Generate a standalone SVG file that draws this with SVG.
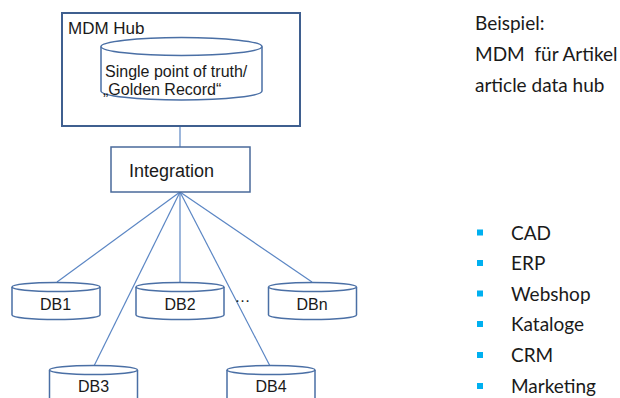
<svg xmlns="http://www.w3.org/2000/svg" width="620" height="398" viewBox="0 0 620 398">
  <style>
    .frame { fill: #ffffff; stroke: #3f5f8f; stroke-width: 2; }
    .box { fill: #ffffff; stroke: #4a6a9a; stroke-width: 1.5; }
    .cyl { fill: #ffffff; stroke: #4a6fa5; stroke-width: 1.5; }
    .link { stroke: #5b86c4; stroke-width: 1.2; fill: none; }
    .lbl { font-family: "Liberation Sans", Arial, sans-serif; fill: #1a1a1a; }
    .side { font-family: Lato, "Open Sans", sans-serif; fill: #1a1a1a; font-size: 19px; }
    .bullet { fill: #00b0f0; }
  </style>
  <defs>
    <!-- small database drum: top ellipse at y=0, body 28 high -->
    <g id="drum">
      <path class="cyl" d="M -44 0 L -44 28 A 44 4.5 0 0 0 44 28 L 44 0"/>
      <ellipse class="cyl" cx="0" cy="0" rx="44" ry="4.5"/>
    </g>
  </defs>

  <rect width="620" height="398" fill="#ffffff"/>

  <!-- connectors -->
  <g id="connectors">
    <line class="link" x1="180" y1="100" x2="180" y2="147"/>
    <line class="link" x1="180" y1="192" x2="57" y2="282"/>
    <line class="link" x1="180" y1="192" x2="94" y2="366"/>
    <line class="link" x1="180" y1="192" x2="180" y2="282"/>
    <line class="link" x1="180" y1="192" x2="270" y2="366"/>
    <line class="link" x1="180" y1="192" x2="312" y2="282"/>
  </g>

  <!-- hub frame with golden record store -->
  <g id="mdm-hub">
    <rect class="frame" x="62" y="13" width="238" height="113"/>
    <text class="lbl" x="68" y="33.5" font-size="17">MDM Hub</text>
  </g>
  <g id="golden-record">
    <path class="cyl" d="M 101 46.5 L 101 91 A 80.5 9 0 0 0 262 91 L 262 46.5"/>
    <ellipse class="cyl" cx="181.5" cy="46.5" rx="80.5" ry="9"/>
    <text class="lbl" x="105" y="77" font-size="16">Single point of truth/</text>
    <text class="lbl" x="103" y="95" font-size="16">„Golden Record“</text>
  </g>

  <g id="integration">
    <rect class="box" x="111" y="147" width="139" height="45"/>
    <text class="lbl" x="129" y="177" font-size="18">Integration</text>
  </g>

  <g id="db1">
    <use href="#drum" x="56" y="287"/>
    <text class="lbl" x="55.5" y="309.5" font-size="16" text-anchor="middle">DB1</text>
  </g>
  <g id="db2">
    <use href="#drum" x="180" y="287"/>
    <text class="lbl" x="180" y="309.5" font-size="16" text-anchor="middle">DB2</text>
  </g>
  <g id="dbn">
    <use href="#drum" x="312.5" y="287"/>
    <text class="lbl" x="312" y="309.5" font-size="16" text-anchor="middle">DBn</text>
  </g>
  <g id="db3">
    <use href="#drum" x="93.5" y="370"/>
    <text class="lbl" x="93.5" y="392" font-size="16" text-anchor="middle">DB3</text>
  </g>
  <g id="db4">
    <use href="#drum" x="271" y="370"/>
    <text class="lbl" x="271" y="392" font-size="16" text-anchor="middle">DB4</text>
  </g>
  <text class="lbl" x="242.5" y="302" font-size="16" text-anchor="middle">…</text>

  <!-- example note -->
  <g id="note">
    <text class="side" x="475" y="30">Beispiel:</text>
    <text class="side" x="475" y="61" xml:space="preserve">MDM  für Artikel</text>
    <text class="side" x="475" y="91.5">article data hub</text>
  </g>

  <!-- source system list -->
  <g id="systems">
    <rect class="bullet" x="477" y="229.5" width="6" height="6"/>
    <text class="side" x="511" y="239.5">CAD</text>
    <rect class="bullet" x="477" y="260" width="6" height="6"/>
    <text class="side" x="511" y="270">ERP</text>
    <rect class="bullet" x="477" y="290.5" width="6" height="6"/>
    <text class="side" x="511" y="300.5">Webshop</text>
    <rect class="bullet" x="477" y="321" width="6" height="6"/>
    <text class="side" x="511" y="331">Kataloge</text>
    <rect class="bullet" x="477" y="352" width="6" height="6"/>
    <text class="side" x="511" y="362">CRM</text>
    <rect class="bullet" x="477" y="383" width="6" height="6"/>
    <text class="side" x="511" y="393">Marketing</text>
  </g>
</svg>
